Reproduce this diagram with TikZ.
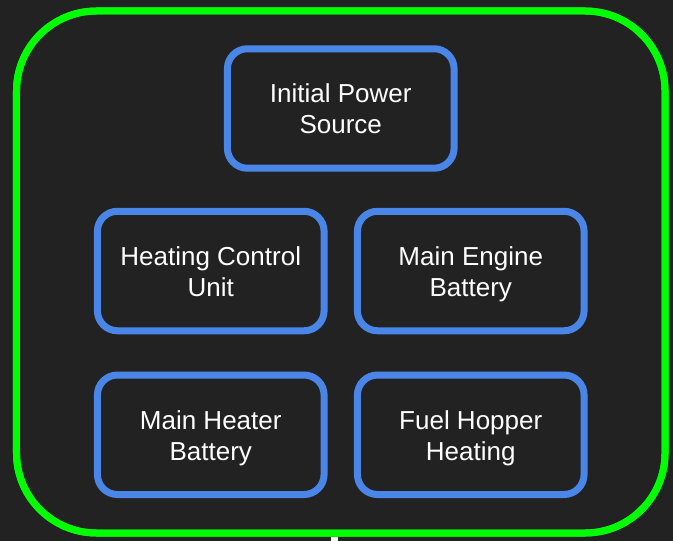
\documentclass[tikz,border=0pt]{standalone}
\usepackage{fontspec}
\setmainfont{Liberation Sans}
\usepackage{xcolor}
\usepackage{tikz}
\usetikzlibrary{positioning}

\definecolor{bgdark}{HTML}{222222}
\definecolor{boxblue}{HTML}{4A86E8}
\definecolor{framegreen}{HTML}{00FF00}

% two centred lines with fixed top height and bottom depth
\newcommand{\boxtext}[2]{\rule{0pt}{19.5pt}#1\\#2\rule[-4.5pt]{0pt}{4.5pt}}

\begin{document}
\begin{tikzpicture}[x=0.75pt,y=-0.75pt,on grid,
       unit/.style={draw=boxblue,line width=5.25pt,rounded corners=15pt,fill=bgdark,
              minimum width=170pt,minimum height=89.6pt,align=center,text=white,
              font=\fontsize{19.5}{23.25}\selectfont},
       container/.style={draw=framegreen,line width=5.25pt,rounded corners=60pt,
              minimum width=486.4pt,minimum height=391.5pt}]
       \useasboundingbox[fill=bgdark] (0,0) rectangle (673,541);

       \coordinate (exit) at (334.5,548);
       \node[container] (frame) at (340.75,272) {};
       \draw[white,line width=5pt] (frame.south -| exit) -- (exit);
       \node[container] at (frame) {};

       \node[unit] (power) at (340.75,108.5) {\boxtext{Initial Power}{Source}};
       \node[unit] (hcu) [below left=121.9pt and 97.5pt of power] {\boxtext{Heating Control}{Unit}};
       \node[unit] (engine) [right=195pt of hcu] {\boxtext{Main Engine}{Battery}};
       \node[unit] (heater) [below=122.8pt of hcu] {\boxtext{Main Heater}{Battery}};
       \node[unit] (hopper) [right=195pt of heater] {\boxtext{Fuel Hopper}{Heating}};
    \end{tikzpicture}
\end{document}
